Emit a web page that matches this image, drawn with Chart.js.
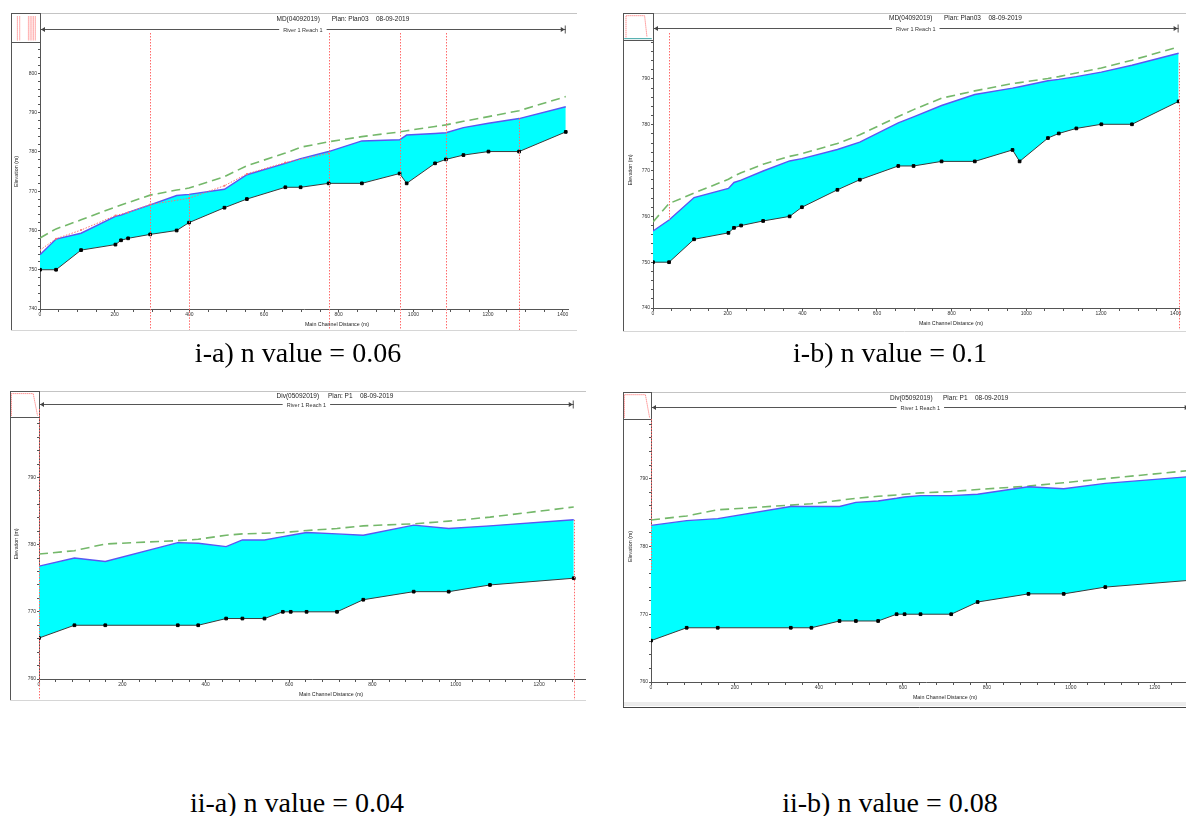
<!DOCTYPE html>
<html>
<head>
<meta charset="utf-8">
<script src="https://cdn.jsdelivr.net/npm/chart.js@4.4.1/dist/chart.umd.min.js"></script>
<style>
html, body { margin: 0; padding: 0; background: #fff; }
body { width: 1186px; height: 816px; overflow: hidden; position: relative; }
canvas { position: absolute; }
.cap { position: absolute; font-family: "Liberation Serif", "Times New Roman", serif; font-size: 28px; line-height: 28px; white-space: nowrap; color: #000; text-align: center; width: 300px; }
</style>
</head>
<body>
<canvas id="c1" width="590" height="340" style="left:0;top:0"></canvas>
<canvas id="c2" width="590" height="340" style="left:596px;top:0"></canvas>
<canvas id="c3" width="590" height="330" style="left:0;top:380px"></canvas>
<canvas id="c4" width="620" height="330" style="left:596px;top:380px"></canvas>
<div class="cap" style="left:148px;top:339px">i-a) n value = 0.06</div>
<div class="cap" style="left:740px;top:339px">i-b) n value = 0.1</div>
<div class="cap" style="left:147px;top:789px">ii-a) n value = 0.04</div>
<div class="cap" style="left:740px;top:789px">ii-b) n value = 0.08</div>
<script>
// reach MD, stations along main channel (m)
const stationsI = [0, 43, 110, 202, 217, 236, 295, 366, 399, 494, 554, 657, 698, 773, 862, 963, 982, 1058, 1087, 1134, 1201, 1283, 1408];
const groundI = [750, 750, 755, 756.4, 757.5, 758, 759, 760, 762, 765.8, 768, 771, 771, 772, 772, 774.5, 772, 777.1, 778.1, 779.2, 780.1, 780.1, 785.1];
// n = 0.06
const wsIa = [753.8, 757.8, 759.3, 763.6, 763.9, 764.6, 766.5, 768.9, 769.2, 770.5, 774.2, 777.1, 778.3, 780.1, 782.8, 783.1, 784.3, 784.7, 784.9, 786.2, 787.3, 788.5, 791.5];
const eglIa = [758.1, 760.4, 762.7, 766, 766.5, 767.1, 769, 770.3, 770.8, 773.7, 776.5, 779.7, 781.2, 782.6, 783.9, 785.1, 785.4, 786.5, 786.9, 787.8, 789, 790.5, 794.1];
// observed WS (red dotted), upstream part of i-a
const obsStI = [0, 43, 110, 202, 236, 295, 399, 494, 554, 657, 773];
const obsIa = [755, 757.9, 760.1, 763.8, 764.6, 766.6, 768.2, 771.4, 774.4, 777.3, 779.6];
// n = 0.1
const wsIb = [756.8, 759.2, 764.1, 766.1, 767.4, 767.9, 769.9, 772.1, 772.6, 774.6, 776.2, 780.4, 781.7, 784.2, 786.6, 788, 788.3, 789.6, 789.9, 790.5, 791.5, 793, 795.6];
const eglIb = [758.8, 762.8, 765.1, 768.1, 768.8, 769.5, 771.4, 773.1, 773.7, 775.9, 777.8, 781.8, 783.3, 785.8, 787.4, 789, 789.2, 790.1, 790.5, 791.3, 792.4, 794.1, 797];

// reach Div
const stationsII = [0, 85, 159, 333, 382, 449, 488, 541, 585, 604, 642, 715, 778, 899, 983, 1082, 1283];
const groundII = [766.1, 768, 768, 768, 768, 769, 769, 769, 770, 770, 770, 770, 771.8, 773, 773, 774, 775];
// n = 0.04
const wsIIa = [776.8, 778, 777.5, 780.3, 780.2, 779.7, 780.7, 780.7, 781.2, 781.4, 781.8, 781.6, 781.4, 782.9, 782.4, 782.8, 783.7];
const eglIIa = [778.6, 779.1, 780.1, 780.6, 780.8, 781.4, 781.6, 781.7, 781.8, 781.9, 782.1, 782.4, 782.8, 783.1, 783.5, 784.1, 785.6];
// n = 0.08
const wsIIb = [783.1, 783.8, 784.1, 785.9, 785.9, 785.9, 786.5, 786.7, 787.1, 787.3, 787.5, 787.5, 787.7, 788.8, 788.5, 789.3, 790.3];
const eglIIb = [783.9, 784.5, 785.4, 786.1, 786.3, 786.8, 787.1, 787.4, 787.6, 787.7, 787.9, 788.1, 788.4, 788.9, 789.4, 790, 791.2];

// red dotted section markers: [station, from elev (null = top), to elev (null = bottom)]
const sectionsIa = [[295, null, null], [399, 769.2, null], [773, null, null], [963, null, null], [1087, null, null], [1283, 788.5, null]];
const sectionsIb = [[43, null, 759.2], [1408, 793.5, null]];
const sectionsIIa = [[0, null, null], [1283, 783.7, null]];
const sectionsIIb = [[0, null, 776.5]];

function pts(st, vals) {
  return st.map((s, i) => ({ x: s, y: vals[i] }));
}

function seg(ctx, x0, y0, x1, y1) {
  ctx.beginPath();
  ctx.moveTo(x0, y0);
  ctx.lineTo(x1, y1);
  ctx.stroke();
}

const hecDeco = {
  id: 'hecDeco',
  afterDraw(chart, args, o) {
    const ctx = chart.ctx;
    const a = chart.chartArea;
    const xs = chart.scales.x, ys = chart.scales.y;
    const f = o.frame;
    ctx.save();
    ctx.lineWidth = 1;

    // window frame
    ctx.strokeStyle = '#c4c4c4';
    seg(ctx, a.left, f.t + 0.5, f.r, f.t + 0.5);
    ctx.strokeStyle = o.darkBottom ? '#444' : '#d6d6d6';
    seg(ctx, f.l, f.b + 0.5, f.r, f.b + 0.5);
    if (o.darkBottom) {
      ctx.fillStyle = '#ececec';
      ctx.fillRect(f.l + 1, f.b - 5, f.r - f.l, 4);
    }
    ctx.strokeStyle = '#555';
    seg(ctx, f.l + 0.5, f.t, f.l + 0.5, f.b);

    // small cross-section thumbnail
    const tw = a.left - f.l, th = a.top - f.t;
    ctx.strokeStyle = '#555';
    ctx.strokeRect(f.l + 0.5, f.t + 0.5, tw, th);
    const T = (px, py) => [f.l + px * tw, f.t + py * th];
    if (o.thumb === 'box') {
      ctx.strokeStyle = '#3fa6a6';
      const [bx0, by] = T(0.04, 0.95), [bx1] = T(0.96, 0.95);
      seg(ctx, bx0, by, bx1, by);
    }
    ctx.strokeStyle = '#ff6060';
    ctx.setLineDash([1, 1]);
    if (o.thumb === 'lines') {
      [0.22, 0.3, 0.6, 0.66, 0.72, 0.78, 0.84].forEach(p => {
        const [x0, y0] = T(p, 0.12), [x1, y1] = T(p, 0.96);
        seg(ctx, x0, y0, x1, y1);
      });
    } else {
      const path = o.thumb === 'box'
        ? [[0.1, 0.9], [0.1, 0.1], [0.72, 0.1], [0.8, 0.9]]
        : [[0.05, 0.95], [0.05, 0.1], [0.8, 0.1], [0.95, 0.95]];
      ctx.beginPath();
      path.forEach((p, i) => { const [px, py] = T(p[0], p[1]); i ? ctx.lineTo(px, py) : ctx.moveTo(px, py); });
      ctx.stroke();
    }

    // section markers
    ctx.strokeStyle = '#ff6a6a';
    ctx.setLineDash([1.5, 1.5]);
    o.sections.forEach(s => {
      const px = Math.round(xs.getPixelForValue(s[0])) + 0.5;
      const top = s[1] == null ? a.top - o.secTop : ys.getPixelForValue(s[1]);
      const bot = s[2] == null ? a.bottom + o.secBottom : ys.getPixelForValue(s[2]);
      seg(ctx, px, top, px, bot);
    });
    ctx.setLineDash([]);

    // reach line with end arrows
    const rx0 = xs.getPixelForValue(o.reach[0]);
    const rx1 = xs.getPixelForValue(o.reach[1]);
    const ry = Math.round(a.top - o.reachOff) + 0.5;
    ctx.strokeStyle = '#555';
    ctx.fillStyle = '#444';
    seg(ctx, rx0, ry, rx1, ry);
    seg(ctx, rx0 + 0.5, ry - 4, rx0 + 0.5, ry + 4);
    seg(ctx, rx1 - 0.5, ry - 4, rx1 - 0.5, ry + 4);
    ctx.beginPath();
    ctx.moveTo(rx0 + 1, ry); ctx.lineTo(rx0 + 5, ry - 2.5); ctx.lineTo(rx0 + 5, ry + 2.5); ctx.closePath();
    ctx.moveTo(rx1 - 1, ry); ctx.lineTo(rx1 - 5, ry - 2.5); ctx.lineTo(rx1 - 5, ry + 2.5); ctx.closePath();
    ctx.fill();

    ctx.font = '5.5px "Liberation Sans", Arial, sans-serif';
    ctx.textAlign = 'center';
    ctx.textBaseline = 'middle';
    const rc = (rx0 + rx1) / 2;
    const rw = ctx.measureText('River 1 Reach 1').width;
    ctx.fillStyle = '#fff';
    ctx.fillRect(rc - rw / 2 - 4, ry - 4, rw + 8, 8);
    ctx.fillStyle = '#333';
    ctx.fillText('River 1 Reach 1', rc, ry + 0.5);

    // plot title
    ctx.font = '6.5px "Liberation Sans", Arial, sans-serif';
    ctx.textAlign = 'left';
    ctx.fillStyle = '#222';
    o.title.forEach((t, i) => ctx.fillText(t, a.left + o.titleX[i], a.top - o.titleOff));

    // axis titles
    ctx.font = '5.3px "Liberation Sans", Arial, sans-serif';
    ctx.textAlign = 'center';
    ctx.fillText('Main Channel Distance (m)', a.left + o.xTitleX, a.bottom + 15.5);
    ctx.save();
    ctx.translate(f.l + o.yTitleX, (a.top + a.bottom) / 2 - 4);
    ctx.rotate(-Math.PI / 2);
    ctx.fillText('Elevation (m)', 0, 0);
    ctx.restore();

    ctx.restore();
  }
};

function makeChart(id, cfg) {
  const axisBorder = { display: true, color: '#555', width: 1 };
  const tickGrid = { drawOnChartArea: false, drawTicks: true, color: '#555', tickColor: '#555' };
  const datasets = [
    {
      label: 'Ground', data: pts(cfg.st, cfg.ground),
      borderColor: '#3a3a3a', borderWidth: 1,
      pointStyle: 'rect', pointRadius: 1.9,
      pointBackgroundColor: '#000', pointBorderColor: '#000', pointBorderWidth: 1,
      fill: false
    },
    {
      label: 'WS', data: pts(cfg.st, cfg.ws),
      borderColor: '#5a56f2', borderWidth: 1.4, pointRadius: 0,
      backgroundColor: '#00ffff', fill: '-1'
    },
    {
      label: 'EG', data: pts(cfg.st, cfg.egl),
      borderColor: '#74b86a', borderWidth: 1.6, borderDash: [9, 5], pointRadius: 0,
      fill: false
    }
  ];
  if (cfg.obs) {
    datasets.push({
      label: 'Obs WS', data: pts(cfg.obsSt, cfg.obs),
      borderColor: '#ff6f6f', borderWidth: 1, borderDash: [1.5, 1.5],
      pointRadius: 1, pointBackgroundColor: '#ff6f6f', pointBorderWidth: 0,
      fill: false, order: -1
    });
  }
  return new Chart(document.getElementById(id), {
    type: 'line',
    data: { datasets: datasets },
    options: {
      responsive: false,
      animation: false,
      events: [],
      layout: { padding: { top: cfg.padTop, right: cfg.padRight, left: 0, bottom: 0 } },
      plugins: { legend: { display: false }, tooltip: { enabled: false }, hecDeco: cfg.deco },
      scales: {
        x: {
          type: 'linear', min: 0, max: cfg.xMax,
          afterFit: s => { s.height = cfg.xH; },
          border: axisBorder,
          grid: Object.assign({ tickLength: 3 }, tickGrid),
          ticks: {
            stepSize: cfg.xStep, includeBounds: false, autoSkip: false, maxRotation: 0, padding: 0,
            font: { size: 5, family: '"Liberation Sans", Arial, sans-serif' }, color: '#333',
            callback: v => (v % 200 === 0 ? String(v) : '')
          }
        },
        y: {
          type: 'linear', min: cfg.yMin, max: cfg.yMax,
          afterFit: s => { s.width = cfg.yW; },
          border: axisBorder,
          grid: Object.assign({ tickLength: 2 }, tickGrid),
          ticks: {
            stepSize: 2, includeBounds: false, autoSkip: false, padding: 1,
            font: { size: 5, family: '"Liberation Sans", Arial, sans-serif' }, color: '#333',
            callback: v => (v % 10 === 0 ? String(v) : '')
          }
        }
      }
    },
    plugins: [hecDeco]
  });
}

const titleMD = ['MD(04092019)', 'Plan: Plan03', '08-09-2019'];
const titleDiv = ['Div(05092019)', 'Plan: P1', '08-09-2019'];

makeChart('c1', {
  st: stationsI, ground: groundI, ws: wsIa, egl: eglIa, obsSt: obsStI, obs: obsIa,
  padTop: 42, padRight: 22, yW: 40, xH: 31, xMax: 1414, xStep: 50, yMin: 740, yMax: 808,
  deco: {
    frame: { l: 11, t: 13, r: 577, b: 330 }, thumb: 'lines', sections: sectionsIa,
    secTop: 9, secBottom: 21, reach: [0, 1408], reachOff: 13,
    title: titleMD, titleX: [236.5, 291.7, 336], titleOff: 23, xTitleX: 297, yTitleX: 6
  }
});

makeChart('c2', {
  st: stationsI, ground: groundI, ws: wsIb, egl: eglIb,
  padTop: 40, padRight: 7, yW: 57, xH: 32, xMax: 1409, xStep: 50, yMin: 740, yMax: 798.5,
  deco: {
    frame: { l: 27, t: 13, r: 590, b: 331 }, thumb: 'box', sections: sectionsIb,
    secTop: 7, secBottom: 22, reach: [0, 1408], reachOff: 12,
    title: titleMD, titleX: [236, 291, 335.5], titleOff: 22, xTitleX: 298, yTitleX: 8
  }
});

makeChart('c3', {
  st: stationsII, ground: groundII, ws: wsIIa, egl: eglIIa,
  padTop: 37, padRight: 5, yW: 39, xH: 31, xMax: 1310, xStep: 40, yMin: 760, yMax: 799,
  deco: {
    frame: { l: 10, t: 11, r: 586, b: 320 }, thumb: 'trap', sections: sectionsIIa,
    secTop: 14, secBottom: 21, reach: [0, 1283], reachOff: 13,
    title: titleDiv, titleX: [237.5, 289, 321], titleOff: 21, xTitleX: 292, yTitleX: 7
  }
});

makeChart('c4', {
  st: stationsII, ground: groundII, ws: wsIIb, egl: eglIIb,
  padTop: 39, padRight: 15, yW: 55, xH: 28, xMax: 1310, xStep: 40, yMin: 760, yMax: 798.8,
  deco: {
    frame: { l: 27, t: 12, r: 620, b: 327 }, darkBottom: true, thumb: 'trap', sections: sectionsIIb,
    secTop: 0, secBottom: 0, reach: [0, 1283], reachOff: 12,
    title: titleDiv, titleX: [239, 292, 324], titleOff: 21, xTitleX: 294, yTitleX: 8
  }
});
</script>
</body>
</html>
